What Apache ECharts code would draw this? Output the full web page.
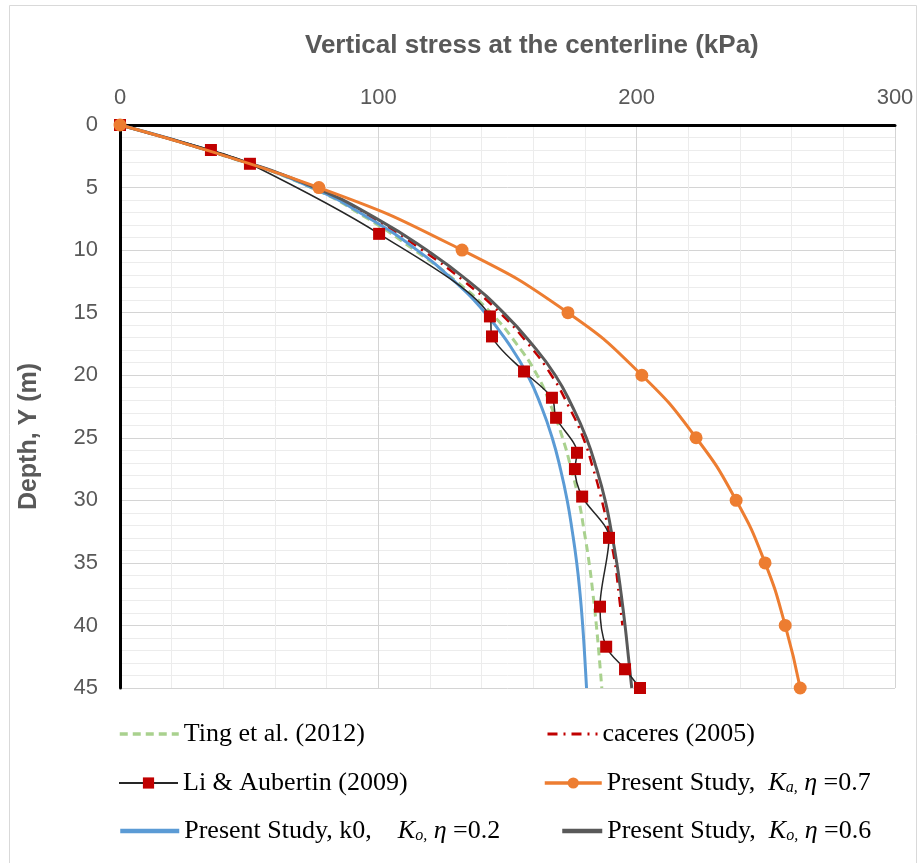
<!DOCTYPE html>
<html>
<head>
<meta charset="utf-8">
<script src="https://cdn.jsdelivr.net/npm/echarts@6/dist/echarts.min.js"></script>
<style>
html,body{margin:0;padding:0;background:#fff;}
#chart{width:922px;height:863px;}
</style>
</head>
<body>
<div id="chart"></div>
<script>
// ---- Data ----
var depths = [0, 2.5, 5, 7.5, 10, 12.5, 15, 17.5, 20, 22.5, 25, 27.5, 30, 32.5, 35, 37.5, 40, 42.5, 45];
var tingValues = [0, 41, 74, 96, 114, 130.2, 143.5, 153.5, 161.5, 166.9, 171.3, 174.7, 177.6, 179.7, 181.6, 183.1, 184.4, 185.5, 186.5];
var blueValues = [0, 41.5, 74.3, 96.8, 115, 129.5, 141.3, 150.5, 157.8, 163.1, 167.3, 170.5, 173.1, 175.1, 176.8, 178.1, 179.1, 179.9, 180.6];
var grayValues = [0, 41.5, 75.5, 99.5, 118.7, 135, 148.4, 159.4, 168.5, 175.1, 180.5, 184.5, 187.8, 190.2, 192.3, 194, 195.5, 196.8, 198.1];
var caceresDepths = [0, 2.5, 5, 7.5, 10, 12.5, 15, 17.5, 20, 22.5, 25, 27.5, 30, 32.5, 35, 37.5, 40];
var caceresValues = [0, 41.5, 75, 98.3, 117, 133.3, 147, 158, 167, 173.7, 179.3, 183.2, 186.5, 189.2, 191.6, 193.1, 194.5];
var liDepths = [0, 2.0, 3.1, 8.7, 15.3, 16.9, 19.7, 21.8, 23.4, 26.2, 27.5, 29.7, 33.0, 38.5, 41.7, 43.5, 45];
var liValues = [0, 35.2, 50.3, 100.3, 143.2, 144, 156.4, 167.2, 168.8, 176.9, 176.1, 178.9, 189.3, 185.8, 188.2, 195.5, 201.3];
var kaDepths = [0, 5, 10, 15, 20, 25, 30, 35, 40, 45];
var kaValues = [0, 77, 132.4, 173.4, 202, 223, 238.5, 249.7, 257.5, 263.3];
var xTicks = [0, 100, 200, 300];
var yTicks = [0, 5, 10, 15, 20, 25, 30, 35, 40, 45];

var names = {
  ting: 'Ting et al. (2012)',
  cac: 'caceres (2005)',
  li: 'Li & Aubertin (2009)',
  ka: 'Present Study, Ka, η =0.7',
  k02: 'Present Study, k0, Ko, η =0.2',
  k06: 'Present Study, Ko, η =0.6'
};

function pairs(vals, ds) { return vals.map(function (v, i) { return [v, ds[i]]; }); }

var serif = '"Liberation Serif","Times New Roman",serif';
var sans = '"Liberation Sans",Arial,sans-serif';
var legendRich = {
  it: { fontFamily: serif, fontStyle: 'italic', fontSize: 26, color: '#000' },
  sub: { fontFamily: serif, fontStyle: 'italic', fontSize: 16, color: '#000', verticalAlign: 'bottom', lineHeight: 16 }
};
function legendFmt(name) {
  if (name === names.ka) return 'Present Study,  {it|K}{sub|a,} {it|η} =0.7';
  if (name === names.k02) return 'Present Study, k0,    {it|K}{sub|o,} {it|η} =0.2';
  if (name === names.k06) return 'Present Study,  {it|K}{sub|o,} {it|η} =0.6';
  return name;
}
function mkLegend(name, left, top, w, hideSymbol, lineW) {
  var l = {
    data: [name], left: left, top: top, padding: 0, itemWidth: w, itemHeight: 14,
    selectedMode: false, formatter: legendFmt,
    textStyle: { fontFamily: serif, fontSize: 26, color: '#000', rich: legendRich }
  };
  if (hideSymbol) l.itemStyle = { opacity: 0 };
  if (lineW) l.lineStyle = { width: lineW };
  return l;
}

var chart = echarts.init(document.getElementById('chart'));
chart.setOption({
  animation: false,
  backgroundColor: '#fff',
  title: {
    text: 'Vertical stress at the centerline (kPa)', left: 300, top: 28,
    textStyle: { fontFamily: sans, fontSize: 26, fontWeight: 'bold', color: '#595959' }
  },
  graphic: [{
    type: 'rect', shape: { x: 9.5, y: 5.5, width: 907, height: 870 },
    style: { fill: 'none', stroke: '#d9d9d9', lineWidth: 1 }, z: -10, silent: true
  }],
  grid: { left: 120, right: 27, top: 125, bottom: 175 },
  xAxis: {
    type: 'value', position: 'top', min: 0, max: 300, interval: 100,
    axisLine: { show: true, lineStyle: { color: '#000', width: 3 } },
    axisTick: { show: false },
    minorTick: { show: false, splitNumber: 5 },
    axisLabel: { fontFamily: sans, fontSize: 22, color: '#595959', margin: 16,
      formatter: function (v) { return xTicks.indexOf(v) >= 0 ? String(v) : ''; } },
    splitLine: { show: true, lineStyle: { color: '#d4d4d4', width: 1 } },
    minorSplitLine: { show: true, lineStyle: { color: '#ececec', width: 1 } }
  },
  yAxis: {
    type: 'value', inverse: true, min: 0, max: 45, interval: 5,
    name: 'Depth, Y (m)', nameLocation: 'middle', nameGap: 78,
    nameTextStyle: { fontFamily: sans, fontSize: 25, fontWeight: 'bold', color: '#595959', padding: [0, 60, 0, 0] },
    axisLine: { show: true, lineStyle: { color: '#000', width: 3 } },
    axisTick: { show: false },
    minorTick: { show: false, splitNumber: 5 },
    axisLabel: { fontFamily: sans, fontSize: 22, color: '#595959', margin: 22,
      formatter: function (v) { return yTicks.indexOf(v) >= 0 ? String(v) : ''; } },
    splitLine: { show: true, lineStyle: { color: '#d4d4d4', width: 1 } },
    minorSplitLine: { show: true, lineStyle: { color: '#ececec', width: 1 } }
  },
  legend: [
    mkLegend(names.ting, 118, 721, 59, true, 3.5),
    mkLegend(names.li, 118, 770, 59, false, 0),
    mkLegend(names.k02, 118, 818, 59, true, 4.5),
    mkLegend(names.cac, 546, 721, 50, true, 3),
    mkLegend(names.ka, 543, 770, 57, false, 3.5),
    mkLegend(names.k06, 560, 818, 40, true, 4.5)
  ],
  series: [
    { name: names.ting, type: 'line', data: pairs(tingValues, depths), smooth: true, symbol: 'none',
      lineStyle: { color: '#a9d18e', width: 3, type: [8, 5] }, itemStyle: { color: '#a9d18e' }, z: 2 },
    { name: names.cac, type: 'line', data: pairs(caceresValues, caceresDepths), smooth: true, symbol: 'none',
      lineStyle: { color: '#c00000', width: 2.5, type: [10, 6, 2, 6] }, itemStyle: { color: '#c00000' }, z: 2 },
    { name: names.k02, type: 'line', data: pairs(blueValues, depths), smooth: true, symbol: 'none',
      lineStyle: { color: '#5b9bd5', width: 3 }, itemStyle: { color: '#5b9bd5' }, z: 3 },
    { name: names.k06, type: 'line', data: pairs(grayValues, depths), smooth: true, symbol: 'none',
      lineStyle: { color: '#595959', width: 3 }, itemStyle: { color: '#595959' }, z: 3 },
    { name: names.li, type: 'line', data: pairs(liValues, liDepths), smooth: 0.3, symbol: 'rect', symbolSize: 12,
      lineStyle: { color: '#262626', width: 1.5 }, itemStyle: { color: '#c00000' }, z: 4 },
    { name: names.ka, type: 'line', data: pairs(kaValues, kaDepths), smooth: true, symbol: 'circle', symbolSize: 13,
      lineStyle: { color: '#ed7d31', width: 3 }, itemStyle: { color: '#ed7d31' }, z: 5 }
  ]
});
</script>
</body>
</html>
